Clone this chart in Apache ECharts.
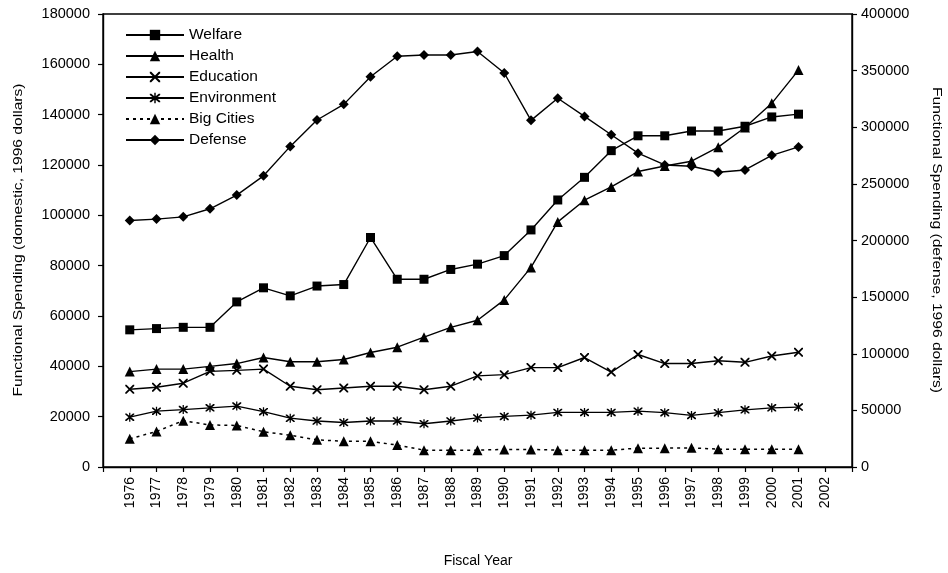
<!DOCTYPE html>
<html>
<head>
<meta charset="utf-8">
<script src="https://cdn.jsdelivr.net/npm/echarts@6/dist/echarts.min.js"></script>
<style>
  html, body { margin: 0; padding: 0; background: #fff; }
  #chart { width: 948px; height: 573px; }
</style>
</head>
<body>
<div id="chart"></div>
<script>
// ---- data ----
const years = [1976, 1977, 1978, 1979, 1980, 1981, 1982, 1983, 1984, 1985, 1986, 1987, 1988,
               1989, 1990, 1991, 1992, 1993, 1994, 1995, 1996, 1997, 1998, 1999, 2000, 2001];
const tickYears = [1976, 1977, 1978, 1979, 1980, 1981, 1982, 1983, 1984, 1985, 1986, 1987, 1988, 1989,
                   1990, 1991, 1992, 1993, 1994, 1995, 1996, 1997, 1998, 1999, 2000, 2001, 2002];
const welfare = [54500, 55000, 55500, 55500, 65600, 71200, 68000, 71900, 72500, 91200, 74600, 74600, 78500,
                 80600, 84000, 94200, 106100, 115100, 125700, 131600, 131600, 133500, 133500, 135400, 139100, 140200];
const health = [37900, 38900, 38900, 40000, 41100, 43500, 41800, 41800, 42700, 45500, 47600, 51600, 55500,
                58300, 66400, 79300, 97400, 106000, 111300, 117400, 119600, 121500, 127100, 134900, 144500, 157700];
const education = [30900, 31700, 33300, 38000, 38400, 38900, 32100, 30700, 31400, 32100, 32100, 30700, 32100,
                   36200, 36700, 39500, 39500, 43500, 37700, 44700, 41100, 41100, 42200, 41600, 44100, 45600];
const environment = [19800, 22200, 22800, 23500, 24200, 22000, 19400, 18300, 17700, 18300, 18300, 17200, 18300,
                     19500, 20100, 20600, 21700, 21700, 21700, 22200, 21600, 20500, 21600, 22700, 23500, 23800];
const bigCities = [11200, 14100, 18400, 16700, 16500, 14000, 12600, 10800, 10200, 10200, 8700, 6700, 6700,
                   6700, 7000, 7000, 6700, 6700, 6700, 7500, 7500, 7600, 7100, 7100, 7100, 7100];
const defense = [217600, 218900, 220900, 228000, 240100, 257100, 283100, 306400, 320200, 344600, 362700, 363800, 363800,
                 366900, 347900, 306100, 325600, 309600, 293400, 277100, 266700, 265600, 260300, 262300, 275200, 282600];
const seriesNames = ['Welfare', 'Health', 'Education', 'Environment', 'Big Cities', 'Defense'];
const titleLeft = 'Functional Spending (domestic, 1996 dollars)';
const titleRight = 'Functional Spending (defense, 1996 dollars)';
const titleX = 'Fiscal Year';

// ---- rendering ----
const FONT = 'Liberation Sans, Arial, sans-serif';
const pairs = arr => years.map((y, i) => [y, arr[i]]);
const crossPath = 'path://M0,0 L1.4,0 L10,8.6 L10,10 L8.6,10 L0,1.4 Z M8.6,0 L10,0 L10,1.4 L1.4,10 L0,10 L0,8.6 Z';
const starPath = 'path://M0,0 L1.4,0 L10,8.6 L10,10 L8.6,10 L0,1.4 Z M8.6,0 L10,0 L10,1.4 L1.4,10 L0,10 L0,8.6 Z M4.3,-1 L5.7,-1 L5.7,11 L4.3,11 Z';

function mk(name, arr, symbol, size, opts) {
  return Object.assign({
    name: name,
    type: 'line',
    data: pairs(arr),
    symbol: symbol,
    symbolSize: size,
    showSymbol: true,
    animation: false,
    color: '#000',
    itemStyle: { color: '#000' },
    lineStyle: { color: '#000', width: 1.4 }
  }, opts || {});
}

function titleText(text, x, y, rot, sx, sy, size) {
  return {
    type: 'text',
    x: x, y: y,
    rotation: rot,
    scaleX: sx, scaleY: sy,
    silent: true,
    style: {
      text: text,
      fontFamily: FONT, fontSize: size, fill: '#000',
      align: 'center', verticalAlign: 'middle',
      textAlign: 'center', textVerticalAlign: 'middle'
    }
  };
}

const axisLineStyle = { show: true, lineStyle: { color: '#000', width: 1.4 } };
const tickStyle = { show: true, length: 5, lineStyle: { color: '#000', width: 1.2 } };
const yFmt = v => String(v);

const chart = echarts.init(document.getElementById('chart'), null, { renderer: 'canvas' });
chart.setOption({
  backgroundColor: '#fff',
  animation: false,
  textStyle: { fontFamily: FONT, color: '#000' },
  grid: {
    left: 103, right: 96, top: 14, bottom: 106,
    containLabel: false, outerBoundsMode: 'none',
    show: true, borderColor: '#000', borderWidth: 1.4
  },
  legend: {
    orient: 'vertical',
    left: 125,
    top: 27,
    padding: 0,
    itemWidth: 58,
    itemHeight: 13,
    itemGap: 5,
    textStyle: { fontFamily: FONT, fontSize: 15.5, color: '#000' },
    data: seriesNames
  },
  graphic: [
    titleText(titleLeft, 18, 240, Math.PI / 2, 1.2, 1, 13),
    titleText(titleRight, 937, 240, -Math.PI / 2, 1.2, 1, 13),
    titleText(titleX, 478, 561, 0, 1, 1, 14)
  ],
  xAxis: {
    type: 'value',
    min: 1975,
    max: 2003,
    interval: 1,
    axisLine: axisLineStyle,
    axisTick: tickStyle,
    splitLine: { show: false },
    axisLabel: {
      rotate: 90,
      margin: 10,
      fontFamily: FONT,
      fontSize: 14,
      color: '#000',
      formatter: v => tickYears.indexOf(v) >= 0 ? String(v) : ''
    }
  },
  yAxis: [
    {
      type: 'value',
      min: 0,
      max: 180000,
      interval: 20000,
      axisLine: axisLineStyle,
      axisTick: tickStyle,
      splitLine: { show: false },
      axisLabel: { fontFamily: FONT, fontSize: 14.5, color: '#000', margin: 13, formatter: yFmt }
    },
    {
      type: 'value',
      position: 'right',
      min: 0,
      max: 400000,
      interval: 50000,
      axisLine: axisLineStyle,
      axisTick: tickStyle,
      splitLine: { show: false },
      axisLabel: { fontFamily: FONT, fontSize: 14.5, color: '#000', margin: 9, formatter: yFmt }
    }
  ],
  series: [
    mk('Welfare', welfare, 'rect', 9),
    mk('Health', health, 'triangle', 10),
    mk('Education', education, crossPath, 9),
    mk('Environment', environment, starPath, 9),
    mk('Big Cities', bigCities, 'triangle', 10, { lineStyle: { color: '#000', width: 1.5, type: [3, 4] } }),
    mk('Defense', defense, 'diamond', 10, { yAxisIndex: 1 })
  ]
});
</script>
</body>
</html>
